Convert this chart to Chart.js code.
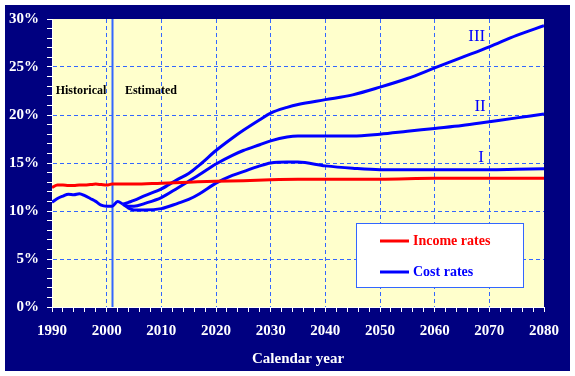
<!DOCTYPE html>
<html>
<head>
<meta charset="utf-8">
<script src="https://cdn.jsdelivr.net/npm/chart.js@4.4.1/dist/chart.umd.min.js"></script>
<style>
  html, body { margin: 0; padding: 0; background: #ffffff; }
  #wrap { width: 575px; height: 376px; }
</style>
</head>
<body>
<div id="wrap"><canvas id="grafico" width="575" height="376"></canvas></div>
<script>
// Datos (porcentaje de la nómina imponible)
const incomeYears = [1990, 1991, 1992, 1993, 1994, 1995, 1996, 1997, 1998, 1999, 2000, 2001, 2002, 2005, 2010, 2015, 2020, 2025, 2030, 2035, 2040, 2050, 2060, 2070, 2080];
const incomeRates = [12.45, 12.7, 12.7, 12.65, 12.65, 12.7, 12.7, 12.75, 12.8, 12.75, 12.7, 12.8, 12.8, 12.8, 12.9, 13.0, 13.1, 13.15, 13.25, 13.3, 13.3, 13.3, 13.4, 13.4, 13.4];

const historyYears = [1990, 1991, 1992, 1993, 1994, 1995, 1996, 1997, 1998, 1999, 2000, 2001, 2002, 2003];
const costHistory = [10.9, 11.3, 11.55, 11.75, 11.7, 11.8, 11.6, 11.3, 11.0, 10.6, 10.5, 10.5, 11.0, 10.7];

const projYears = [2003, 2004, 2005, 2007, 2010, 2013, 2015, 2017, 2020, 2023, 2025, 2028, 2030, 2033, 2035, 2040, 2045, 2050, 2055, 2060, 2065, 2070, 2075, 2080];
const costI   = [10.7, 10.3, 10.1, 10.1, 10.25, 10.8, 11.2, 11.8, 12.9, 13.7, 14.1, 14.7, 15.0, 15.1, 15.1, 14.7, 14.45, 14.3, 14.3, 14.3, 14.3, 14.3, 14.35, 14.4];
const costII  = [10.7, 10.5, 10.5, 10.8, 11.4, 12.4, 13.1, 13.8, 14.9, 15.8, 16.3, 16.9, 17.3, 17.7, 17.8, 17.8, 17.8, 18.0, 18.3, 18.6, 18.9, 19.3, 19.7, 20.1];
const costIII = [10.7, 10.9, 11.1, 11.6, 12.3, 13.3, 13.9, 14.8, 16.3, 17.6, 18.4, 19.5, 20.2, 20.8, 21.1, 21.6, 22.1, 22.9, 23.8, 24.9, 26.0, 27.1, 28.3, 29.3];

const splitYear = 2001;
const labelsAlternativas = [
  { text: 'III', x: 2067.7, y: 28.2 },
  { text: 'II', x: 2068.3, y: 20.9 },
  { text: 'I', x: 2068.5, y: 15.55 }
];
const labelsPeriodo = [
  { text: 'Historical', x: 1995.3, y: 22.5 },
  { text: 'Estimated', x: 2008.1, y: 22.5 }
];

const AZUL_FONDO = '#000080';
const AMARILLO = '#ffffcc';
const AZUL_REJILLA = '#3366ff';
const SERIF = '"Liberation Serif", "DejaVu Serif", serif';

function puntos(xs, ys) {
  return xs.map((x, i) => ({ x: x, y: ys[i] }));
}

function serie(label, xs, ys, color) {
  return {
    label: label,
    data: puntos(xs, ys),
    borderColor: color,
    backgroundColor: color,
    borderWidth: 3,
    pointRadius: 0,
    fill: false,
    cubicInterpolationMode: 'monotone'
  };
}

const fondoPlugin = {
  id: 'fondo',
  beforeDraw(chart) {
    const c = chart.ctx;
    const a = chart.chartArea;
    c.save();
    c.fillStyle = '#ffffff';
    c.fillRect(0, 0, chart.width, chart.height);
    c.fillStyle = AZUL_FONDO;
    c.fillRect(5, 5, 565, 366);
    c.fillStyle = AMARILLO;
    c.fillRect(a.left, a.top, a.right - a.left, a.bottom - a.top);
    c.restore();
  },
  beforeDatasetsDraw(chart) {
    const c = chart.ctx;
    const a = chart.chartArea;
    const x = Math.round(chart.scales.x.getPixelForValue(splitYear)) + 0.5;
    c.save();
    c.strokeStyle = AZUL_REJILLA;
    c.lineWidth = 2;
    c.beginPath();
    c.moveTo(x, a.top);
    c.lineTo(x, a.bottom);
    c.stroke();

    c.fillStyle = '#000000';
    c.font = 'bold 12px ' + SERIF;
    c.textAlign = 'center';
    c.textBaseline = 'middle';
    labelsPeriodo.forEach(l => {
      c.fillText(l.text, chart.scales.x.getPixelForValue(l.x), chart.scales.y.getPixelForValue(l.y));
    });
    c.restore();
  },
  afterDatasetsDraw(chart) {
    const c = chart.ctx;
    const a = chart.chartArea;
    c.save();
    c.fillStyle = '#0000ff';
    c.font = '17px ' + SERIF;
    c.textAlign = 'center';
    c.textBaseline = 'middle';
    labelsAlternativas.forEach(l => {
      c.fillText(l.text, chart.scales.x.getPixelForValue(l.x), chart.scales.y.getPixelForValue(l.y));
    });

    // Leyenda dentro del área del gráfico
    const bx = a.right - 188, by = a.bottom - 84, bw = 167, bh = 64;
    c.fillStyle = '#ffffff';
    c.fillRect(bx, by, bw, bh);
    c.strokeStyle = AZUL_REJILLA;
    c.lineWidth = 1;
    c.strokeRect(bx + 0.5, by + 0.5, bw, bh);
    const items = [
      { text: 'Income rates', color: '#ff0000', dy: 18 },
      { text: 'Cost rates', color: '#0000ff', dy: 49 }
    ];
    c.font = 'bold 14px ' + SERIF;
    c.textAlign = 'left';
    items.forEach(it => {
      c.strokeStyle = it.color;
      c.lineWidth = 3;
      c.beginPath();
      c.moveTo(bx + 24, by + it.dy);
      c.lineTo(bx + 53, by + it.dy);
      c.stroke();
      c.fillStyle = it.color;
      c.fillText(it.text, bx + 57, by + it.dy);
    });
    c.restore();
  }
};

const grafico = new Chart(document.getElementById('grafico').getContext('2d'), {
  type: 'line',
  data: {
    datasets: [
      serie('Income rates', incomeYears, incomeRates, '#ff0000'),
      serie('Cost rates', historyYears, costHistory, '#0000ff'),
      serie('Cost rates I', projYears, costI, '#0000ff'),
      serie('Cost rates II', projYears, costII, '#0000ff'),
      serie('Cost rates III', projYears, costIII, '#0000ff')
    ]
  },
  options: {
    responsive: false,
    animation: false,
    layout: { padding: { left: 0, right: 31, top: 19, bottom: 0 } },
    plugins: {
      legend: { display: false },
      tooltip: { enabled: false }
    },
    scales: {
      x: {
        type: 'linear',
        min: 1990,
        max: 2080,
        afterFit(scale) { scale.height = 69; },
        ticks: {
          stepSize: 2,
          autoSkip: false,
          maxRotation: 0,
          padding: 10,
          color: '#ffffff',
          font: { family: SERIF, size: 15, weight: 'bold' },
          callback: v => (v % 10 === 0 ? String(v) : '')
        },
        grid: {
          color: ctx => (ctx.tick && ctx.tick.value % 10 === 0 && ctx.tick.value !== 1990 && ctx.tick.value !== 2080) ? AZUL_REJILLA : 'rgba(0,0,0,0)',
          tickColor: '#ffffff',
          tickLength: 5,
          tickBorderDash: [],
          lineWidth: 1
        },
        border: { display: true, color: '#ffffff', width: 1, dash: [4, 3] },
        title: {
          display: true,
          text: 'Calendar year',
          color: '#ffffff',
          font: { family: SERIF, size: 15, weight: 'bold' },
          padding: { top: 4, bottom: 8 }
        }
      },
      y: {
        min: 0,
        max: 30,
        afterFit(scale) { scale.width = 52; },
        ticks: {
          stepSize: 1,
          autoSkip: false,
          padding: 8,
          color: '#ffffff',
          font: { family: SERIF, size: 15, weight: 'bold' },
          callback: v => (v % 5 === 0 ? v + '%' : '')
        },
        grid: {
          color: ctx => (ctx.tick && ctx.tick.value % 5 === 0 && ctx.tick.value !== 0 && ctx.tick.value !== 30) ? AZUL_REJILLA : 'rgba(0,0,0,0)',
          tickColor: '#ffffff',
          tickLength: 5,
          tickBorderDash: [],
          lineWidth: 1
        },
        border: { display: true, color: '#ffffff', width: 1, dash: [4, 3] }
      }
    }
  },
  plugins: [fondoPlugin]
});
</script>
</body>
</html>
